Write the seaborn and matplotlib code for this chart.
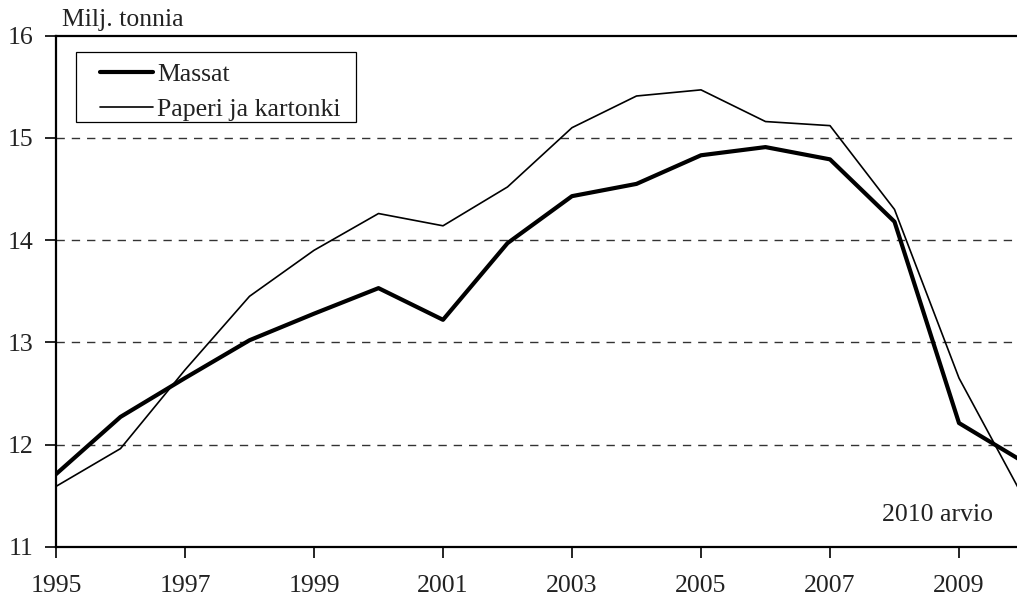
import numpy as np
import pandas as pd
import matplotlib
matplotlib.use("Agg")
import matplotlib.pyplot as plt
import seaborn as sns
from matplotlib.lines import Line2D
from matplotlib.patches import Rectangle

# ================= DATA =================
years = list(range(1995, 2011))
massat = [11.71, 12.27, 12.65, 13.02, 13.28, 13.53, 13.22, 13.97,
          14.43, 14.55, 14.83, 14.91, 14.79, 14.18, 12.21, 11.83]
paperi = [11.59, 11.96, 12.73, 13.45, 13.90, 14.26, 14.14, 14.52,
          15.10, 15.41, 15.47, 15.16, 15.12, 14.30, 12.65, 11.48]
series_names = ["Massat", "Paperi ja kartonki"]
x_ticks = list(range(1995, 2010, 2))
y_ticks = [11, 12, 13, 14, 15, 16]

df = pd.DataFrame({
    "vuosi": years * 2,
    "arvo": massat + paperi,
    "sarja": [series_names[0]] * len(years) + [series_names[1]] * len(years),
})

# ================= STYLE =================
sns.set_style("white")
plt.rcParams["font.family"] = ["Liberation Serif", "DejaVu Serif"]
TXT = "#222222"
FS = 18.5

fig = plt.figure(figsize=(10.17, 5.99), dpi=100)
# axes run a bit past the right edge, like in the original
AX_W, AX_H = 967.5, 511.0
ax = fig.add_axes([56 / 1017, (599 - 546.7) / 599, AX_W / 1017, AX_H / 599])

def px(x, y):
    # pixel position in the picture -> axes fraction
    return (x - 56) / AX_W, (546.7 - y) / AX_H

sns.lineplot(data=df, x="vuosi", y="arvo", hue="sarja", size="sarja",
             sizes={series_names[0]: 3.0, series_names[1]: 1.2},
             palette={series_names[0]: "black", series_names[1]: "black"},
             ax=ax, legend=False)

for y in y_ticks[1:-1]:
    ax.axhline(y, color="#333333", lw=1.0, ls=(0, (6, 5)), zorder=0)

ax.set_xlim(1995, 2010)
ax.set_ylim(11, 16)
ax.set_xticks(x_ticks)
ax.set_yticks(y_ticks)
ax.set_xlabel("")
ax.set_ylabel("")
ax.tick_params(axis="both", direction="out", length=8, width=1.2,
               color="black", labelsize=FS, labelcolor=TXT, left=True, bottom=True)
ax.tick_params(axis="y", pad=8)
ax.tick_params(axis="x", pad=12.5)
for side in ["left", "bottom", "top"]:
    ax.spines[side].set_color("black")
    ax.spines[side].set_linewidth(1.6)
ax.spines["right"].set_visible(False)

# legend, with its own box
x0, y0 = px(76, 122)
x1, y1 = px(356, 52)
ax.add_patch(Rectangle((x0, y0), x1 - x0, y1 - y0, transform=ax.transAxes,
                       fill=True, facecolor="white", edgecolor="black", lw=0.9, zorder=5))
handles = [Line2D([], [], color="black", lw=3.0), Line2D([], [], color="black", lw=1.2)]
leg = ax.legend(handles, series_names, loc="upper left", frameon=False,
                bbox_to_anchor=px(100, 63), borderaxespad=0, borderpad=0,
                fontsize=FS, handlelength=2.05, handletextpad=0.18, labelspacing=0.48)
leg.set_zorder(6)
for t in leg.get_texts():
    t.set_color(TXT)

ax.text(*px(62, 20), "Milj. tonnia", transform=ax.transAxes,
        fontsize=FS, color=TXT, ha="left", va="center")
ax.text(*px(993, 515), "2010 arvio", transform=ax.transAxes,
        fontsize=FS, color=TXT, ha="right", va="center")

fig.savefig("out.png", dpi=100)
